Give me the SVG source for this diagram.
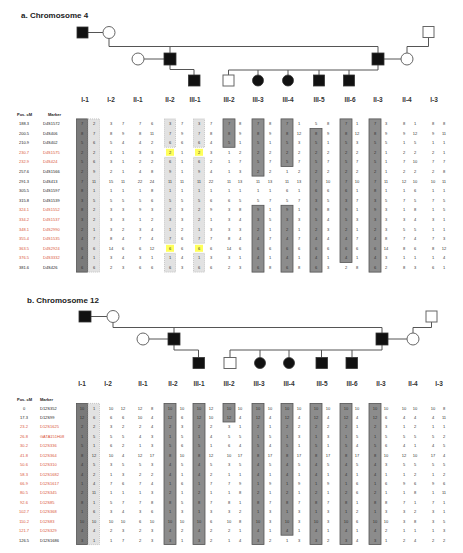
<svg xmlns="http://www.w3.org/2000/svg" width="463" height="553" viewBox="0 0 463 553">
<style>
.ln{stroke:#555;stroke-width:1;fill:none}
.aff{fill:#111;stroke:#333;stroke-width:0.8}
.un{fill:#fff;stroke:#666;stroke-width:1}
.ttl{font-family:"Liberation Sans",Arial,sans-serif;font-weight:bold;font-size:8px;fill:#222}
.lbl{font-family:"Liberation Sans",Arial,sans-serif;font-weight:bold;font-size:6.5px;fill:#333;text-anchor:middle}
.hd{font-family:"Liberation Sans",Arial,sans-serif;font-weight:bold;font-size:4px;fill:#222}
.n{font-family:"Liberation Sans",Arial,sans-serif;font-size:4px;fill:#333;text-anchor:middle}
.pb{font-family:"Liberation Sans",Arial,sans-serif;font-size:4px;fill:#222}
.pr{font-family:"Liberation Sans",Arial,sans-serif;font-size:4px;fill:#d9553a}
.dk{fill:#8c8c8c;stroke:#555;stroke-width:0.8}
.dk1{fill:#7a7a7a;stroke:#555;stroke-width:0.8}
.lt{fill:#e2e2e2;stroke:#aaa;stroke-width:0.6;stroke-dasharray:1 1}
.yl{fill:#ffff5a}
</style>

<!-- ===== Panel a ===== -->
<text class="ttl" x="21" y="18">a. Chromosome 4</text>
<g id="a-connectors">
<path class="ln" d="M88,32.5H103 M109,38.5V46.5H378V53 M170,46.5V53 M144,59H164 M170,65V69.5H194V75 M384,59H401 M428.5,37.5V46.5H407V53 M378,65V70 M228.5,70H378 M228.5,70V75 M258,70V75 M288,70V75 M319,70V75 M349,70V75"/>
</g>
<g id="a-I-1"><rect class="aff" x="77" y="27" width="11" height="11"/></g>
<g id="a-I-2"><circle class="un" cx="109" cy="32.5" r="6"/></g>
<g id="a-II-1"><circle class="un" cx="138" cy="59" r="6"/></g>
<g id="a-II-2"><rect class="aff" x="164" y="53" width="12" height="12"/></g>
<g id="a-III-1"><rect class="aff" x="188.5" y="75" width="11.5" height="11"/></g>
<g id="a-II-3"><rect class="aff" x="372" y="53" width="12" height="12"/></g>
<g id="a-II-4"><circle class="un" cx="407" cy="59" r="6"/></g>
<g id="a-I-3"><rect class="un" x="423" y="26.5" width="11" height="11"/></g>
<g id="a-III-2"><rect class="un" x="223" y="75" width="11" height="11"/></g>
<g id="a-III-3"><circle class="aff" cx="258" cy="80.5" r="5.5"/></g>
<g id="a-III-4"><circle class="aff" cx="288" cy="80.5" r="5.5"/></g>
<g id="a-III-5"><rect class="aff" x="313.5" y="75" width="11" height="11"/></g>
<g id="a-III-6"><rect class="aff" x="343.5" y="75" width="11" height="11"/></g>
<g id="a-labels">
<text class="lbl" x="85" y="101.5">I-1</text><text class="lbl" x="111" y="101.5">I-2</text><text class="lbl" x="138" y="101.5">II-1</text><text class="lbl" x="170" y="101.5">II-2</text><text class="lbl" x="195" y="101.5">III-1</text><text class="lbl" x="229" y="101.5">III-2</text><text class="lbl" x="258" y="101.5">III-3</text><text class="lbl" x="288" y="101.5">III-4</text><text class="lbl" x="319" y="101.5">III-5</text><text class="lbl" x="350" y="101.5">III-6</text><text class="lbl" x="378" y="101.5">II-3</text><text class="lbl" x="407" y="101.5">II-4</text><text class="lbl" x="434" y="101.5">I-3</text>
</g>

<g id="a-table">
<rect class="dk1" x="76.5" y="118.9" width="11" height="153.2"/>
<rect class="lt" x="88" y="118.9" width="11.5" height="153.2"/>
<rect class="lt" x="164.5" y="118.9" width="11" height="28.4"/>
<rect class="lt" x="164.5" y="157.3" width="11" height="86"/>
<rect class="lt" x="164.5" y="253.3" width="11" height="18.8"/>
<rect class="lt" x="193.5" y="118.9" width="11" height="28.4"/>
<rect class="lt" x="193.5" y="157.3" width="11" height="86"/>
<rect class="lt" x="193.5" y="253.3" width="11" height="18.8"/>
<rect class="yl" x="166" y="148.8" width="8" height="7"/>
<rect class="yl" x="195" y="148.8" width="8" height="7"/>
<rect class="yl" x="166" y="244.8" width="8" height="7"/>
<rect class="yl" x="195" y="244.8" width="8" height="7"/>
<rect class="dk" x="223" y="118.9" width="12" height="28.4"/>
<rect class="dk" x="252" y="118.9" width="12" height="57.2"/>
<rect class="dk" x="252" y="205.3" width="12" height="66.8"/>
<rect class="dk" x="281" y="118.9" width="12" height="47.6"/>
<rect class="dk" x="281" y="205.3" width="12" height="66.8"/>
<rect class="dk" x="310" y="128.5" width="12" height="143.6"/>
<rect class="dk" x="340" y="118.9" width="12" height="143.6"/>
<rect class="dk" x="369" y="118.9" width="12" height="153.2"/>

<text class="hd" x="17" y="116">Pos. cM</text><text class="hd" x="48" y="116">Marker</text>
<text class="pb" text-anchor="middle" x="24" y="125">188.3</text><text class="pb" x="43" y="125">D4S1572</text>
<text class="pb" text-anchor="middle" x="24" y="134.6">200.5</text><text class="pb" x="43" y="134.6">D4S406</text>
<text class="pb" text-anchor="middle" x="24" y="144.2">210.9</text><text class="pb" x="43" y="144.2">D4S402</text>
<text class="pr" text-anchor="middle" x="24" y="153.8">230.7</text><text class="pr" x="43" y="153.8">D4S1575</text>
<text class="pr" text-anchor="middle" x="24" y="163.4">232.9</text><text class="pr" x="43" y="163.4">D4S424</text>
<text class="pb" text-anchor="middle" x="24" y="173">257.6</text><text class="pb" x="43" y="173">D4S1566</text>
<text class="pb" text-anchor="middle" x="24" y="182.6">291.3</text><text class="pb" x="43" y="182.6">D4S413</text>
<text class="pb" text-anchor="middle" x="24" y="192.2">305.5</text><text class="pb" x="43" y="192.2">D4S1597</text>
<text class="pb" text-anchor="middle" x="24" y="201.8">315.8</text><text class="pb" x="43" y="201.8">D4S1539</text>
<text class="pr" text-anchor="middle" x="24" y="211.4">324.1</text><text class="pr" x="43" y="211.4">D4S1552</text>
<text class="pr" text-anchor="middle" x="24" y="221">334.2</text><text class="pr" x="43" y="221">D4S1537</text>
<text class="pr" text-anchor="middle" x="24" y="230.6">348.1</text><text class="pr" x="43" y="230.6">D4S2990</text>
<text class="pr" text-anchor="middle" x="24" y="240.2">355.4</text><text class="pr" x="43" y="240.2">D4S1535</text>
<text class="pr" text-anchor="middle" x="24" y="249.8">363.5</text><text class="pr" x="43" y="249.8">D4S2924</text>
<text class="pr" text-anchor="middle" x="24" y="259.4">376.5</text><text class="pr" x="43" y="259.4">D4S3332</text>
<text class="pb" text-anchor="middle" x="24" y="269">381.6</text><text class="pb" x="43" y="269">D4S426</text>

<text class="n" y="125"><tspan x="82">7</tspan><tspan x="94">2</tspan><tspan x="111">3</tspan><tspan x="123">7</tspan><tspan x="140">7</tspan><tspan x="152">6</tspan><tspan x="170">3</tspan><tspan x="182">7</tspan><tspan x="199">3</tspan><tspan x="211">7</tspan><tspan x="229">7</tspan><tspan x="240">8</tspan><tspan x="258">7</tspan><tspan x="270">8</tspan><tspan x="287">7</tspan><tspan x="299">1</tspan><tspan x="316">5</tspan><tspan x="328">8</tspan><tspan x="346">7</tspan><tspan x="357">1</tspan><tspan x="375">7</tspan><tspan x="386">3</tspan><tspan x="404">8</tspan><tspan x="415">1</tspan><tspan x="433">8</tspan><tspan x="444">8</tspan></text>
<text class="n" y="134.6"><tspan x="82">8</tspan><tspan x="94">7</tspan><tspan x="111">8</tspan><tspan x="123">9</tspan><tspan x="140">8</tspan><tspan x="152">11</tspan><tspan x="170">7</tspan><tspan x="182">9</tspan><tspan x="199">7</tspan><tspan x="211">8</tspan><tspan x="229">8</tspan><tspan x="240">9</tspan><tspan x="258">8</tspan><tspan x="270">9</tspan><tspan x="287">8</tspan><tspan x="299">12</tspan><tspan x="316">8</tspan><tspan x="328">9</tspan><tspan x="346">8</tspan><tspan x="357">12</tspan><tspan x="375">8</tspan><tspan x="386">9</tspan><tspan x="404">9</tspan><tspan x="415">12</tspan><tspan x="433">9</tspan><tspan x="444">11</tspan></text>
<text class="n" y="144.2"><tspan x="82">5</tspan><tspan x="94">6</tspan><tspan x="111">5</tspan><tspan x="123">4</tspan><tspan x="140">4</tspan><tspan x="152">2</tspan><tspan x="170">6</tspan><tspan x="182">6</tspan><tspan x="199">6</tspan><tspan x="211">4</tspan><tspan x="229">5</tspan><tspan x="240">1</tspan><tspan x="258">5</tspan><tspan x="270">1</tspan><tspan x="287">5</tspan><tspan x="299">3</tspan><tspan x="316">5</tspan><tspan x="328">1</tspan><tspan x="346">5</tspan><tspan x="357">3</tspan><tspan x="375">5</tspan><tspan x="386">5</tspan><tspan x="404">1</tspan><tspan x="415">5</tspan><tspan x="433">1</tspan><tspan x="444">1</tspan></text>
<text class="n" y="153.8"><tspan x="82">2</tspan><tspan x="94">2</tspan><tspan x="111">1</tspan><tspan x="123">1</tspan><tspan x="140">3</tspan><tspan x="152">3</tspan><tspan x="170">2</tspan><tspan x="182">1</tspan><tspan x="199">2</tspan><tspan x="211">3</tspan><tspan x="229">1</tspan><tspan x="240">2</tspan><tspan x="258">2</tspan><tspan x="270">2</tspan><tspan x="287">2</tspan><tspan x="299">2</tspan><tspan x="316">2</tspan><tspan x="328">2</tspan><tspan x="346">2</tspan><tspan x="357">2</tspan><tspan x="375">2</tspan><tspan x="386">1</tspan><tspan x="404">2</tspan><tspan x="415">2</tspan><tspan x="433">2</tspan><tspan x="444">1</tspan></text>
<text class="n" y="163.4"><tspan x="82">5</tspan><tspan x="94">6</tspan><tspan x="111">3</tspan><tspan x="123">1</tspan><tspan x="140">2</tspan><tspan x="152">2</tspan><tspan x="170">6</tspan><tspan x="182">1</tspan><tspan x="199">6</tspan><tspan x="211">2</tspan><tspan x="229">1</tspan><tspan x="240">7</tspan><tspan x="258">5</tspan><tspan x="270">7</tspan><tspan x="287">5</tspan><tspan x="299">7</tspan><tspan x="316">5</tspan><tspan x="328">7</tspan><tspan x="346">5</tspan><tspan x="357">7</tspan><tspan x="375">5</tspan><tspan x="386">1</tspan><tspan x="404">7</tspan><tspan x="415">10</tspan><tspan x="433">7</tspan><tspan x="444">7</tspan></text>
<text class="n" y="173"><tspan x="82">2</tspan><tspan x="94">9</tspan><tspan x="111">2</tspan><tspan x="123">1</tspan><tspan x="140">4</tspan><tspan x="152">8</tspan><tspan x="170">9</tspan><tspan x="182">1</tspan><tspan x="199">9</tspan><tspan x="211">4</tspan><tspan x="229">1</tspan><tspan x="240">3</tspan><tspan x="258">2</tspan><tspan x="270">2</tspan><tspan x="287">1</tspan><tspan x="299">2</tspan><tspan x="316">2</tspan><tspan x="328">2</tspan><tspan x="346">2</tspan><tspan x="357">2</tspan><tspan x="375">2</tspan><tspan x="386">1</tspan><tspan x="404">2</tspan><tspan x="415">2</tspan><tspan x="433">2</tspan><tspan x="444">8</tspan></text>
<text class="n" y="182.6"><tspan x="82">7</tspan><tspan x="94">11</tspan><tspan x="111">15</tspan><tspan x="123">11</tspan><tspan x="140">22</tspan><tspan x="152">24</tspan><tspan x="170">11</tspan><tspan x="182">11</tspan><tspan x="199">11</tspan><tspan x="211">22</tspan><tspan x="229">11</tspan><tspan x="240">13</tspan><tspan x="258">11</tspan><tspan x="270">13</tspan><tspan x="287">11</tspan><tspan x="299">13</tspan><tspan x="316">7</tspan><tspan x="328">10</tspan><tspan x="346">7</tspan><tspan x="357">10</tspan><tspan x="375">7</tspan><tspan x="386">11</tspan><tspan x="404">12</tspan><tspan x="415">10</tspan><tspan x="433">10</tspan><tspan x="444">11</tspan></text>
<text class="n" y="192.2"><tspan x="82">8</tspan><tspan x="94">1</tspan><tspan x="111">1</tspan><tspan x="123">1</tspan><tspan x="140">1</tspan><tspan x="152">8</tspan><tspan x="170">1</tspan><tspan x="182">1</tspan><tspan x="199">1</tspan><tspan x="211">1</tspan><tspan x="229">1</tspan><tspan x="240">1</tspan><tspan x="258">1</tspan><tspan x="270">1</tspan><tspan x="287">6</tspan><tspan x="299">1</tspan><tspan x="316">6</tspan><tspan x="328">6</tspan><tspan x="346">6</tspan><tspan x="357">1</tspan><tspan x="375">8</tspan><tspan x="386">1</tspan><tspan x="404">1</tspan><tspan x="415">6</tspan><tspan x="433">1</tspan><tspan x="444">1</tspan></text>
<text class="n" y="201.8"><tspan x="82">3</tspan><tspan x="94">5</tspan><tspan x="111">5</tspan><tspan x="123">5</tspan><tspan x="140">5</tspan><tspan x="152">6</tspan><tspan x="170">5</tspan><tspan x="182">5</tspan><tspan x="199">5</tspan><tspan x="211">6</tspan><tspan x="229">6</tspan><tspan x="240">5</tspan><tspan x="258">5</tspan><tspan x="270">7</tspan><tspan x="287">5</tspan><tspan x="299">7</tspan><tspan x="316">3</tspan><tspan x="328">5</tspan><tspan x="346">3</tspan><tspan x="357">7</tspan><tspan x="375">3</tspan><tspan x="386">5</tspan><tspan x="404">7</tspan><tspan x="415">5</tspan><tspan x="433">7</tspan><tspan x="444">5</tspan></text>
<text class="n" y="211.4"><tspan x="82">8</tspan><tspan x="94">2</tspan><tspan x="111">3</tspan><tspan x="123">3</tspan><tspan x="140">9</tspan><tspan x="152">3</tspan><tspan x="170">2</tspan><tspan x="182">3</tspan><tspan x="199">2</tspan><tspan x="211">9</tspan><tspan x="229">3</tspan><tspan x="240">8</tspan><tspan x="258">9</tspan><tspan x="270">1</tspan><tspan x="287">9</tspan><tspan x="299">1</tspan><tspan x="316">9</tspan><tspan x="328">8</tspan><tspan x="346">9</tspan><tspan x="357">1</tspan><tspan x="375">9</tspan><tspan x="386">3</tspan><tspan x="404">1</tspan><tspan x="415">8</tspan><tspan x="433">1</tspan><tspan x="444">5</tspan></text>
<text class="n" y="221"><tspan x="82">3</tspan><tspan x="94">2</tspan><tspan x="111">3</tspan><tspan x="123">3</tspan><tspan x="140">1</tspan><tspan x="152">2</tspan><tspan x="170">3</tspan><tspan x="182">3</tspan><tspan x="199">2</tspan><tspan x="211">1</tspan><tspan x="229">3</tspan><tspan x="240">4</tspan><tspan x="258">3</tspan><tspan x="270">5</tspan><tspan x="287">3</tspan><tspan x="299">3</tspan><tspan x="316">5</tspan><tspan x="328">4</tspan><tspan x="346">5</tspan><tspan x="357">3</tspan><tspan x="375">3</tspan><tspan x="386">3</tspan><tspan x="404">3</tspan><tspan x="415">4</tspan><tspan x="433">3</tspan><tspan x="444">1</tspan></text>
<text class="n" y="230.6"><tspan x="82">2</tspan><tspan x="94">1</tspan><tspan x="111">3</tspan><tspan x="123">2</tspan><tspan x="140">3</tspan><tspan x="152">4</tspan><tspan x="170">1</tspan><tspan x="182">2</tspan><tspan x="199">1</tspan><tspan x="211">3</tspan><tspan x="229">3</tspan><tspan x="240">3</tspan><tspan x="258">2</tspan><tspan x="270">1</tspan><tspan x="287">2</tspan><tspan x="299">1</tspan><tspan x="316">2</tspan><tspan x="328">3</tspan><tspan x="346">2</tspan><tspan x="357">1</tspan><tspan x="375">2</tspan><tspan x="386">3</tspan><tspan x="404">5</tspan><tspan x="415">5</tspan><tspan x="433">1</tspan><tspan x="444">1</tspan></text>
<text class="n" y="240.2"><tspan x="82">4</tspan><tspan x="94">7</tspan><tspan x="111">8</tspan><tspan x="123">4</tspan><tspan x="140">7</tspan><tspan x="152">4</tspan><tspan x="170">7</tspan><tspan x="182">6</tspan><tspan x="199">7</tspan><tspan x="211">7</tspan><tspan x="229">8</tspan><tspan x="240">4</tspan><tspan x="258">4</tspan><tspan x="270">7</tspan><tspan x="287">4</tspan><tspan x="299">7</tspan><tspan x="316">4</tspan><tspan x="328">4</tspan><tspan x="346">4</tspan><tspan x="357">7</tspan><tspan x="375">4</tspan><tspan x="386">8</tspan><tspan x="404">7</tspan><tspan x="415">4</tspan><tspan x="433">7</tspan><tspan x="444">3</tspan></text>
<text class="n" y="249.8"><tspan x="82">6</tspan><tspan x="94">6</tspan><tspan x="111">14</tspan><tspan x="123">6</tspan><tspan x="140">6</tspan><tspan x="152">12</tspan><tspan x="170">6</tspan><tspan x="182">6</tspan><tspan x="199">6</tspan><tspan x="211">6</tspan><tspan x="229">14</tspan><tspan x="240">6</tspan><tspan x="258">6</tspan><tspan x="270">6</tspan><tspan x="287">6</tspan><tspan x="299">6</tspan><tspan x="316">6</tspan><tspan x="328">6</tspan><tspan x="346">6</tspan><tspan x="357">6</tspan><tspan x="375">6</tspan><tspan x="386">14</tspan><tspan x="404">8</tspan><tspan x="415">6</tspan><tspan x="433">8</tspan><tspan x="444">12</tspan></text>
<text class="n" y="259.4"><tspan x="82">4</tspan><tspan x="94">1</tspan><tspan x="111">3</tspan><tspan x="123">4</tspan><tspan x="140">3</tspan><tspan x="152">1</tspan><tspan x="170">1</tspan><tspan x="182">4</tspan><tspan x="199">1</tspan><tspan x="211">3</tspan><tspan x="229">3</tspan><tspan x="240">1</tspan><tspan x="258">4</tspan><tspan x="270">1</tspan><tspan x="287">4</tspan><tspan x="299">1</tspan><tspan x="316">4</tspan><tspan x="328">1</tspan><tspan x="346">4</tspan><tspan x="357">1</tspan><tspan x="375">4</tspan><tspan x="386">3</tspan><tspan x="404">1</tspan><tspan x="415">1</tspan><tspan x="433">1</tspan><tspan x="444">4</tspan></text>
<text class="n" y="269"><tspan x="82">6</tspan><tspan x="94">6</tspan><tspan x="111">2</tspan><tspan x="123">3</tspan><tspan x="140">6</tspan><tspan x="152">6</tspan><tspan x="170">6</tspan><tspan x="182">3</tspan><tspan x="199">6</tspan><tspan x="211">6</tspan><tspan x="229">2</tspan><tspan x="240">3</tspan><tspan x="258">6</tspan><tspan x="270">8</tspan><tspan x="287">6</tspan><tspan x="299">8</tspan><tspan x="316">6</tspan><tspan x="328">3</tspan><tspan x="346">2</tspan><tspan x="357">8</tspan><tspan x="375">6</tspan><tspan x="386">2</tspan><tspan x="404">8</tspan><tspan x="415">3</tspan><tspan x="433">6</tspan><tspan x="444">1</tspan></text>
</g>

<!-- ===== Panel b ===== -->
<text class="ttl" x="27" y="303">b. Chromosome 12</text>
<g id="b-connectors">
<path class="ln" d="M91,316.5H107 M113,322.5V327.5H382V333 M174,327.5V333 M149,339H168 M174,345V350H198.5V357.5 M388,339H407 M431.5,322V327.5H413V333 M382,345V350 M230,350H382 M230,350V357.5 M260,350V357.5 M289,350V357.5 M321.5,350V357.5 M352,350V357.5"/>
</g>
<g id="b-I-1"><rect class="aff" x="79" y="311" width="12" height="11"/></g>
<g id="b-I-2"><circle class="un" cx="113" cy="316.5" r="6"/></g>
<g id="b-II-1"><circle class="un" cx="143" cy="339" r="6"/></g>
<g id="b-II-2"><rect class="aff" x="168" y="333" width="12" height="12"/></g>
<g id="b-III-1"><rect class="aff" x="193" y="357.5" width="11.5" height="11"/></g>
<g id="b-II-3"><rect class="aff" x="376" y="333" width="12" height="12"/></g>
<g id="b-II-4"><circle class="un" cx="413" cy="339" r="6"/></g>
<g id="b-I-3"><rect class="un" x="426" y="311" width="11" height="11"/></g>
<g id="b-III-2"><rect class="un" x="224" y="357.5" width="12" height="11"/></g>
<g id="b-III-3"><circle class="aff" cx="260" cy="363" r="5.5"/></g>
<g id="b-III-4"><circle class="aff" cx="289" cy="363" r="5.5"/></g>
<g id="b-III-5"><rect class="aff" x="316" y="357.5" width="11.5" height="11"/></g>
<g id="b-III-6"><rect class="aff" x="346" y="357.5" width="11.5" height="11"/></g>
<g id="b-labels">
<text class="lbl" x="82" y="386">I-1</text><text class="lbl" x="108" y="386">I-2</text><text class="lbl" x="143" y="386">II-1</text><text class="lbl" x="173" y="386">II-2</text><text class="lbl" x="199" y="386">III-1</text><text class="lbl" x="229" y="386">III-2</text><text class="lbl" x="259" y="386">III-3</text><text class="lbl" x="289" y="386">III-4</text><text class="lbl" x="322" y="386">III-5</text><text class="lbl" x="352" y="386">III-6</text><text class="lbl" x="381" y="386">II-3</text><text class="lbl" x="413" y="386">II-4</text><text class="lbl" x="439" y="386">I-3</text>
</g>

<g id="b-table">
<rect class="dk1" x="76.5" y="403.4" width="11" height="141.2"/>
<rect class="lt" x="88" y="403.4" width="11.5" height="141.2"/>
<rect class="dk" x="164" y="403.4" width="12" height="141.2"/>
<rect class="dk" x="193" y="403.4" width="12" height="141.2"/>
<rect class="dk" x="223" y="403.4" width="12" height="18.6"/>
<rect class="dk" x="252" y="403.4" width="12" height="141.2"/>
<rect class="dk" x="281" y="403.4" width="12" height="131.8"/>
<rect class="dk" x="310" y="403.4" width="12" height="141.2"/>
<rect class="dk" x="340" y="403.4" width="12" height="141.2"/>
<rect class="dk" x="369" y="403.4" width="12" height="141.2"/>

<text class="hd" x="17" y="401">Pos. cM</text><text class="hd" x="40" y="401">Marker</text>
<text class="pb" text-anchor="middle" x="24" y="409.5">0</text><text class="pb" x="40" y="409.5">D12S352</text>
<text class="pb" text-anchor="middle" x="24" y="418.9">17.3</text><text class="pb" x="40" y="418.9">D12S99</text>
<text class="pr" text-anchor="middle" x="24" y="428.4">23.2</text><text class="pr" x="40" y="428.4">D12S1625</text>
<text class="pr" text-anchor="middle" x="24" y="437.8">26.8</text><text class="pr" x="40" y="437.8">GATA151H08</text>
<text class="pr" text-anchor="middle" x="24" y="447.2">30.2</text><text class="pr" x="40" y="447.2">D12S336</text>
<text class="pr" text-anchor="middle" x="24" y="456.7">41.8</text><text class="pr" x="40" y="456.7">D12S364</text>
<text class="pr" text-anchor="middle" x="24" y="466.1">50.6</text><text class="pr" x="40" y="466.1">D12S310</text>
<text class="pr" text-anchor="middle" x="24" y="475.5">58.3</text><text class="pr" x="40" y="475.5">D12S1682</text>
<text class="pr" text-anchor="middle" x="24" y="484.9">66.9</text><text class="pr" x="40" y="484.9">D12S1617</text>
<text class="pr" text-anchor="middle" x="24" y="494.4">80.5</text><text class="pr" x="40" y="494.4">D12S345</text>
<text class="pr" text-anchor="middle" x="24" y="503.8">92.6</text><text class="pr" x="40" y="503.8">D12S85</text>
<text class="pr" text-anchor="middle" x="24" y="513.2">102.7</text><text class="pr" x="40" y="513.2">D12S368</text>
<text class="pr" text-anchor="middle" x="24" y="522.7">110.2</text><text class="pr" x="40" y="522.7">D12S83</text>
<text class="pr" text-anchor="middle" x="24" y="532.1">121.7</text><text class="pr" x="40" y="532.1">D12S329</text>
<text class="pb" text-anchor="middle" x="24" y="541.5">126.5</text><text class="pb" x="40" y="541.5">D12S1686</text>

<text class="n" y="409.5"><tspan x="82">10</tspan><tspan x="94">1</tspan><tspan x="111">10</tspan><tspan x="123">12</tspan><tspan x="140">12</tspan><tspan x="152">8</tspan><tspan x="170">10</tspan><tspan x="182">10</tspan><tspan x="199">10</tspan><tspan x="211">12</tspan><tspan x="229">10</tspan><tspan x="240">10</tspan><tspan x="258">10</tspan><tspan x="270">10</tspan><tspan x="287">10</tspan><tspan x="299">10</tspan><tspan x="316">10</tspan><tspan x="328">10</tspan><tspan x="346">10</tspan><tspan x="357">10</tspan><tspan x="375">10</tspan><tspan x="386">10</tspan><tspan x="404">10</tspan><tspan x="415">10</tspan><tspan x="433">10</tspan><tspan x="444">8</tspan></text>
<text class="n" y="418.9"><tspan x="82">12</tspan><tspan x="94">6</tspan><tspan x="111">6</tspan><tspan x="123">6</tspan><tspan x="140">10</tspan><tspan x="152">4</tspan><tspan x="170">12</tspan><tspan x="182">6</tspan><tspan x="199">12</tspan><tspan x="211">10</tspan><tspan x="229">12</tspan><tspan x="240">4</tspan><tspan x="258">12</tspan><tspan x="270">4</tspan><tspan x="287">12</tspan><tspan x="299">4</tspan><tspan x="316">12</tspan><tspan x="328">4</tspan><tspan x="346">12</tspan><tspan x="357">4</tspan><tspan x="375">12</tspan><tspan x="386">6</tspan><tspan x="404">4</tspan><tspan x="415">4</tspan><tspan x="433">4</tspan><tspan x="444">11</tspan></text>
<text class="n" y="428.4"><tspan x="82">2</tspan><tspan x="94">2</tspan><tspan x="111">3</tspan><tspan x="123">2</tspan><tspan x="140">2</tspan><tspan x="152">4</tspan><tspan x="170">2</tspan><tspan x="182">3</tspan><tspan x="199">2</tspan><tspan x="211">2</tspan><tspan x="229">3</tspan><tspan x="240">1</tspan><tspan x="258">2</tspan><tspan x="270">1</tspan><tspan x="287">2</tspan><tspan x="299">2</tspan><tspan x="316">2</tspan><tspan x="328">2</tspan><tspan x="346">2</tspan><tspan x="357">1</tspan><tspan x="375">2</tspan><tspan x="386">3</tspan><tspan x="404">1</tspan><tspan x="415">2</tspan><tspan x="433">1</tspan><tspan x="444">1</tspan></text>
<text class="n" y="437.8"><tspan x="82">1</tspan><tspan x="94">5</tspan><tspan x="111">5</tspan><tspan x="123">5</tspan><tspan x="140">4</tspan><tspan x="152">3</tspan><tspan x="170">1</tspan><tspan x="182">5</tspan><tspan x="199">1</tspan><tspan x="211">4</tspan><tspan x="229">5</tspan><tspan x="240">5</tspan><tspan x="258">1</tspan><tspan x="270">5</tspan><tspan x="287">1</tspan><tspan x="299">3</tspan><tspan x="316">1</tspan><tspan x="328">3</tspan><tspan x="346">1</tspan><tspan x="357">5</tspan><tspan x="375">1</tspan><tspan x="386">5</tspan><tspan x="404">5</tspan><tspan x="415">5</tspan><tspan x="433">5</tspan><tspan x="444">2</tspan></text>
<text class="n" y="447.2"><tspan x="82">5</tspan><tspan x="94">1</tspan><tspan x="111">6</tspan><tspan x="123">2</tspan><tspan x="140">1</tspan><tspan x="152">3</tspan><tspan x="170">5</tspan><tspan x="182">6</tspan><tspan x="199">5</tspan><tspan x="211">1</tspan><tspan x="229">6</tspan><tspan x="240">4</tspan><tspan x="258">5</tspan><tspan x="270">4</tspan><tspan x="287">5</tspan><tspan x="299">1</tspan><tspan x="316">5</tspan><tspan x="328">1</tspan><tspan x="346">5</tspan><tspan x="357">4</tspan><tspan x="375">5</tspan><tspan x="386">6</tspan><tspan x="404">4</tspan><tspan x="415">1</tspan><tspan x="433">4</tspan><tspan x="444">5</tspan></text>
<text class="n" y="456.7"><tspan x="82">8</tspan><tspan x="94">12</tspan><tspan x="111">10</tspan><tspan x="123">4</tspan><tspan x="140">12</tspan><tspan x="152">17</tspan><tspan x="170">8</tspan><tspan x="182">10</tspan><tspan x="199">8</tspan><tspan x="211">12</tspan><tspan x="229">10</tspan><tspan x="240">17</tspan><tspan x="258">8</tspan><tspan x="270">17</tspan><tspan x="287">8</tspan><tspan x="299">17</tspan><tspan x="316">8</tspan><tspan x="328">17</tspan><tspan x="346">8</tspan><tspan x="357">17</tspan><tspan x="375">8</tspan><tspan x="386">10</tspan><tspan x="404">12</tspan><tspan x="415">10</tspan><tspan x="433">17</tspan><tspan x="444">4</tspan></text>
<text class="n" y="466.1"><tspan x="82">4</tspan><tspan x="94">5</tspan><tspan x="111">3</tspan><tspan x="123">5</tspan><tspan x="140">5</tspan><tspan x="152">3</tspan><tspan x="170">4</tspan><tspan x="182">5</tspan><tspan x="199">4</tspan><tspan x="211">5</tspan><tspan x="229">3</tspan><tspan x="240">5</tspan><tspan x="258">4</tspan><tspan x="270">5</tspan><tspan x="287">4</tspan><tspan x="299">5</tspan><tspan x="316">4</tspan><tspan x="328">5</tspan><tspan x="346">4</tspan><tspan x="357">5</tspan><tspan x="375">4</tspan><tspan x="386">3</tspan><tspan x="404">5</tspan><tspan x="415">5</tspan><tspan x="433">5</tspan><tspan x="444">5</tspan></text>
<text class="n" y="475.5"><tspan x="82">4</tspan><tspan x="94">2</tspan><tspan x="111">1</tspan><tspan x="123">3</tspan><tspan x="140">2</tspan><tspan x="152">2</tspan><tspan x="170">4</tspan><tspan x="182">1</tspan><tspan x="199">4</tspan><tspan x="211">2</tspan><tspan x="229">1</tspan><tspan x="240">1</tspan><tspan x="258">4</tspan><tspan x="270">1</tspan><tspan x="287">4</tspan><tspan x="299">1</tspan><tspan x="316">4</tspan><tspan x="328">1</tspan><tspan x="346">4</tspan><tspan x="357">1</tspan><tspan x="375">4</tspan><tspan x="386">1</tspan><tspan x="404">1</tspan><tspan x="415">2</tspan><tspan x="433">1</tspan><tspan x="444">2</tspan></text>
<text class="n" y="484.9"><tspan x="82">1</tspan><tspan x="94">4</tspan><tspan x="111">7</tspan><tspan x="123">6</tspan><tspan x="140">7</tspan><tspan x="152">4</tspan><tspan x="170">1</tspan><tspan x="182">6</tspan><tspan x="199">1</tspan><tspan x="211">7</tspan><tspan x="229">7</tspan><tspan x="240">9</tspan><tspan x="258">1</tspan><tspan x="270">9</tspan><tspan x="287">1</tspan><tspan x="299">9</tspan><tspan x="316">1</tspan><tspan x="328">9</tspan><tspan x="346">1</tspan><tspan x="357">6</tspan><tspan x="375">1</tspan><tspan x="386">6</tspan><tspan x="404">9</tspan><tspan x="415">6</tspan><tspan x="433">9</tspan><tspan x="444">6</tspan></text>
<text class="n" y="494.4"><tspan x="82">2</tspan><tspan x="94">11</tspan><tspan x="111">1</tspan><tspan x="123">1</tspan><tspan x="140">1</tspan><tspan x="152">3</tspan><tspan x="170">2</tspan><tspan x="182">1</tspan><tspan x="199">2</tspan><tspan x="211">1</tspan><tspan x="229">1</tspan><tspan x="240">8</tspan><tspan x="258">2</tspan><tspan x="270">1</tspan><tspan x="287">2</tspan><tspan x="299">1</tspan><tspan x="316">2</tspan><tspan x="328">1</tspan><tspan x="346">2</tspan><tspan x="357">6</tspan><tspan x="375">2</tspan><tspan x="386">1</tspan><tspan x="404">1</tspan><tspan x="415">8</tspan><tspan x="433">1</tspan><tspan x="444">11</tspan></text>
<text class="n" y="503.8"><tspan x="82">8</tspan><tspan x="94">1</tspan><tspan x="111">5</tspan><tspan x="123">7</tspan><tspan x="140">7</tspan><tspan x="152">8</tspan><tspan x="170">8</tspan><tspan x="182">5</tspan><tspan x="199">8</tspan><tspan x="211">7</tspan><tspan x="229">8</tspan><tspan x="240">1</tspan><tspan x="258">8</tspan><tspan x="270">7</tspan><tspan x="287">8</tspan><tspan x="299">7</tspan><tspan x="316">8</tspan><tspan x="328">7</tspan><tspan x="346">8</tspan><tspan x="357">1</tspan><tspan x="375">8</tspan><tspan x="386">8</tspan><tspan x="404">7</tspan><tspan x="415">1</tspan><tspan x="433">7</tspan><tspan x="444">1</tspan></text>
<text class="n" y="513.2"><tspan x="82">1</tspan><tspan x="94">6</tspan><tspan x="111">3</tspan><tspan x="123">4</tspan><tspan x="140">3</tspan><tspan x="152">6</tspan><tspan x="170">1</tspan><tspan x="182">3</tspan><tspan x="199">1</tspan><tspan x="211">3</tspan><tspan x="229">3</tspan><tspan x="240">2</tspan><tspan x="258">1</tspan><tspan x="270">3</tspan><tspan x="287">1</tspan><tspan x="299">3</tspan><tspan x="316">1</tspan><tspan x="328">3</tspan><tspan x="346">1</tspan><tspan x="357">2</tspan><tspan x="375">1</tspan><tspan x="386">3</tspan><tspan x="404">3</tspan><tspan x="415">2</tspan><tspan x="433">3</tspan><tspan x="444">1</tspan></text>
<text class="n" y="522.7"><tspan x="82">10</tspan><tspan x="94">10</tspan><tspan x="111">10</tspan><tspan x="123">10</tspan><tspan x="140">6</tspan><tspan x="152">10</tspan><tspan x="170">10</tspan><tspan x="182">10</tspan><tspan x="199">10</tspan><tspan x="211">6</tspan><tspan x="229">10</tspan><tspan x="240">8</tspan><tspan x="258">10</tspan><tspan x="270">3</tspan><tspan x="287">10</tspan><tspan x="299">3</tspan><tspan x="316">10</tspan><tspan x="328">3</tspan><tspan x="346">10</tspan><tspan x="357">6</tspan><tspan x="375">10</tspan><tspan x="386">10</tspan><tspan x="404">3</tspan><tspan x="415">8</tspan><tspan x="433">3</tspan><tspan x="444">5</tspan></text>
<text class="n" y="532.1"><tspan x="82">4</tspan><tspan x="94">4</tspan><tspan x="111">2</tspan><tspan x="123">3</tspan><tspan x="140">2</tspan><tspan x="152">3</tspan><tspan x="170">4</tspan><tspan x="182">2</tspan><tspan x="199">4</tspan><tspan x="211">2</tspan><tspan x="229">2</tspan><tspan x="240">1</tspan><tspan x="258">4</tspan><tspan x="270">1</tspan><tspan x="287">4</tspan><tspan x="299">1</tspan><tspan x="316">4</tspan><tspan x="328">1</tspan><tspan x="346">4</tspan><tspan x="357">1</tspan><tspan x="375">4</tspan><tspan x="386">2</tspan><tspan x="404">1</tspan><tspan x="415">1</tspan><tspan x="433">1</tspan><tspan x="444">3</tspan></text>
<text class="n" y="541.5"><tspan x="82">3</tspan><tspan x="94">1</tspan><tspan x="111">1</tspan><tspan x="123">7</tspan><tspan x="140">2</tspan><tspan x="152">3</tspan><tspan x="170">3</tspan><tspan x="182">1</tspan><tspan x="199">3</tspan><tspan x="211">2</tspan><tspan x="229">1</tspan><tspan x="240">4</tspan><tspan x="258">3</tspan><tspan x="270">2</tspan><tspan x="287">1</tspan><tspan x="299">3</tspan><tspan x="316">3</tspan><tspan x="328">2</tspan><tspan x="346">3</tspan><tspan x="357">4</tspan><tspan x="375">3</tspan><tspan x="386">1</tspan><tspan x="404">2</tspan><tspan x="415">4</tspan><tspan x="433">2</tspan><tspan x="444">2</tspan></text>
</g>
</svg>
